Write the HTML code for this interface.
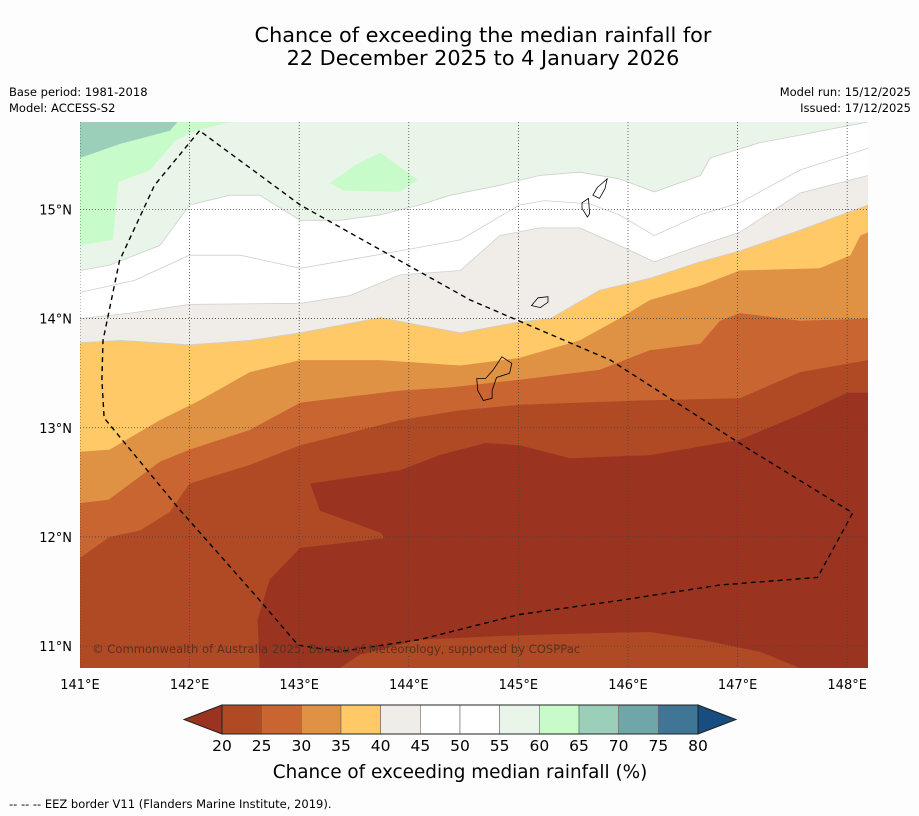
<!DOCTYPE html>
<html><head><meta charset="utf-8"><style>
body{margin:0;background:#fdfdfd;font-family:"DejaVu Sans","Liberation Sans",sans-serif;}
svg{display:block}
</style></head><body>
<svg id="chart" width="919" height="816" viewBox="0 0 919 816" xmlns="http://www.w3.org/2000/svg" font-family="DejaVu Sans, Liberation Sans, sans-serif">
<rect width="919" height="816" fill="#fdfdfd"/>
<text x="483" y="42" font-size="20.8" text-anchor="middle" fill="#000">Chance of exceeding the median rainfall for</text>
<text x="483" y="65" font-size="20.8" text-anchor="middle" fill="#000">22 December 2025 to 4 January 2026</text>
<text x="9" y="96" font-size="11.5">Base period: 1981-2018</text>
<text x="9" y="112" font-size="11.5">Model: ACCESS-S2</text>
<text x="911" y="96" font-size="11.5" text-anchor="end">Model run: 15/12/2025</text>
<text x="911" y="112" font-size="11.5" text-anchor="end">Issued: 17/12/2025</text>
<defs><clipPath id="mapclip"><rect x="80" y="122" width="788" height="546"/></clipPath></defs>
<g id="map" clip-path="url(#mapclip)"></g>
<g id="overlay" clip-path="url(#mapclip)"></g>
<text x="92" y="653" font-size="11.6" fill="#5a3020">© Commonwealth of Australia 2025, Bureau of Meteorology, supported by COSPPac</text>
<g id="axes"></g>
<g id="colorbar"></g>
<text x="460" y="778" font-size="18.4" text-anchor="middle">Chance of exceeding median rainfall (%)</text>
<text x="9" y="808" font-size="11.5">--  --  -- EEZ border V11 (Flanders Marine Institute, 2019).</text>
</svg>
<script>
const lonTicks=[141,142,143,144,145,146,147,148];
const latTicks=[11,12,13,14,15];
const cbLevels=[20,25,30,35,40,45,50,55,60,65,70,75,80];
const cbColors=["#b04a25","#c96531","#e09244","#fec966","#f0ede8","#ffffff","#ffffff","#e9f5e9","#c8fbca","#9bcfb9","#6fa6a8","#3f7696"];
const cbLow="#9a3420", cbHigh="#174d80";
const LON0=141, LON1=148.19, LAT0=10.8, LAT1=15.8;
const X0=80, X1=868, Y0=668, Y1=122;
const xs=lon=>X0+(lon-LON0)/(LON1-LON0)*(X1-X0);
const ys=lat=>Y0-(lat-LAT0)/(LAT1-LAT0)*(Y0-Y1);

const b1Lon=[141,141.27,141.55,141.82,142.0,142.55,143.01,143.92,144.47,145.01,146.11,147.02,147.57,148.19];
const b1Lat=[11.81,12.0,12.06,12.23,12.49,12.66,12.84,13.07,13.16,13.21,13.25,13.27,13.51,13.62];
const b2Lon=[141,141.26,141.73,142.0,142.55,143.01,143.92,144.38,145.01,145.74,146.2,146.66,146.84,147.02,147.57,148.19];
const b2Lat=[12.31,12.34,12.69,12.8,12.98,13.23,13.34,13.37,13.44,13.53,13.71,13.77,13.98,14.05,13.98,14.0];
const b3Lon=[141,141.27,141.73,142.09,142.55,143.01,143.74,144.47,145.01,145.56,145.92,146.2,146.66,147.02,147.75,148.03,148.12,148.19];
const b3Lat=[12.78,12.8,13.07,13.25,13.51,13.62,13.62,13.57,13.64,13.8,14.0,14.17,14.3,14.44,14.46,14.58,14.76,14.79];
const b4Lon=[141,141.37,142.0,142.55,143.01,143.74,144.1,144.47,145.01,145.29,145.74,146.2,146.66,147.02,147.57,148.19];
const b4Lat=[13.78,13.8,13.76,13.8,13.87,14.01,13.94,13.87,13.97,14.0,14.26,14.37,14.52,14.62,14.81,15.04];
const b5Lon=[141,141.46,142.0,143.01,143.46,143.92,144.47,144.83,145.19,145.56,145.92,146.24,146.66,147.02,147.57,148.19];
const b5Lat=[14.0,14.05,14.13,14.14,14.21,14.4,14.44,14.76,14.83,14.83,14.67,14.52,14.67,14.79,15.15,15.31];
const c50Lon=[141,141.5,142,142.46,143.01,143.92,144.47,145.01,145.24,145.65,145.92,146.24,146.66,147.02,147.57,148.19];
const c50Lat=[14.24,14.35,14.58,14.58,14.46,14.62,14.72,15.04,15.08,15.05,14.95,14.76,14.95,15.06,15.36,15.56];
const b6Lon=[141,141.27,141.73,142.0,142.37,142.64,143.01,143.37,143.74,144.1,144.38,144.83,145.19,145.56,145.92,146.24,146.66,146.75,147.2,147.57,148.03,148.19];
const b6Lat=[14.44,14.49,14.67,15.04,15.13,15.13,14.9,14.9,14.95,15.04,15.13,15.22,15.31,15.34,15.28,15.16,15.31,15.47,15.61,15.68,15.77,15.8];
const g60Lon=[141,141.3,141.35,141.64,141.87,142.05,142.37,141];
const g60Lat=[14.67,14.72,15.25,15.36,15.63,15.72,15.8,15.8];
const blobLon=[143.28,143.5,143.74,144.08,143.92,143.41];
const blobLat=[15.24,15.4,15.52,15.27,15.16,15.17];
const g65Lon=[141,141.37,141.82,141.89,141];
const g65Lat=[15.47,15.6,15.72,15.8,15.8];
const darkLon=[143.1,143.92,144.28,144.7,145.01,145.47,146.2,147.02,147.57,148.0,148.19,148.19,142.64,142.62,142.73,143.01,143.78,143.74,143.19];
const darkLat=[12.49,12.61,12.75,12.86,12.84,12.72,12.75,12.89,13.12,13.32,13.32,10.8,10.8,11.24,11.61,11.9,11.99,12.04,12.24];
const lobeLon=[143.37,143.55,144.1,145.01,145.74,146.2,146.66,147.2,147.57];
const lobeLat=[10.8,10.92,11.06,11.1,11.12,11.13,11.06,10.95,10.8];
const eezLon=[142.09,141.68,141.36,141.21,141.2,141.22,141.91,142.64,142.99,143.37,144.1,145.01,145.93,146.84,147.73,148.05,147.11,145.84,144.56,143.01,142.09];
const eezLat=[15.72,15.22,14.53,13.8,13.44,13.09,12.25,11.42,11.01,10.95,11.06,11.29,11.42,11.56,11.63,12.22,12.8,13.62,14.17,15.04,15.72];
const guamLon=[144.85,144.94,144.92,144.8,144.76,144.76,144.68,144.63,144.62,144.7,144.77];
const guamLat=[13.65,13.59,13.5,13.46,13.34,13.27,13.25,13.34,13.45,13.45,13.53];
const rotaLon=[145.12,145.18,145.27,145.27,145.2];
const rotaLat=[14.12,14.19,14.2,14.15,14.1];
const tinianLon=[145.58,145.64,145.65,145.63,145.58];
const tinianLat=[15.06,15.1,14.96,14.93,15.01];
const saipanLon=[145.72,145.81,145.79,145.74,145.68];
const saipanLat=[15.2,15.28,15.19,15.1,15.13];

const NS="http://www.w3.org/2000/svg";
const map=document.getElementById('map'), ov=document.getElementById('overlay'), ax=document.getElementById('axes'), cb=document.getElementById('colorbar');
function pts(lo,la){return lo.map((v,i)=>xs(v).toFixed(1)+','+ys(la[i]).toFixed(1)).join(' ');}
function poly(parent,lo,la,fill,stroke,sw,name){
  const p=document.createElementNS(NS,'polygon');
  p.setAttribute('points',pts(lo,la));p.setAttribute('fill',fill);
  if(stroke){p.setAttribute('stroke',stroke);p.setAttribute('stroke-width',sw);}
  
  
  parent.appendChild(p);return p;
}
function line(parent,lo,la,stroke,sw,dash,name){
  const p=document.createElementNS(NS,'polyline');
  p.setAttribute('points',pts(lo,la));p.setAttribute('fill','none');p.setAttribute('stroke',stroke);p.setAttribute('stroke-width',sw);
  if(dash)p.setAttribute('stroke-dasharray',dash);
  
  
  parent.appendChild(p);return p;
}
const base=document.createElementNS(NS,'rect');
base.setAttribute('x',X0);base.setAttribute('y',Y1);base.setAttribute('width',X1-X0);base.setAttribute('height',Y0-Y1);base.setAttribute('fill',cbColors[0]);


map.appendChild(base);
const bands=[[b1Lon,b1Lat,cbColors[1],'band-25-30'],[b2Lon,b2Lat,cbColors[2],'band-30-35'],[b3Lon,b3Lat,cbColors[3],'band-35-40'],[b4Lon,b4Lat,cbColors[4],'band-40-45'],[b5Lon,b5Lat,cbColors[5],'band-45-55'],[b6Lon,b6Lat,cbColors[7],'band-55-60']];
bands.forEach(b=>{poly(map,b[0].concat([LON1,LON0]),b[1].concat([LAT1,LAT1]),b[2],null,0,b[3]);});
[b4Lon,b5Lon,c50Lon,b6Lon].forEach((lo,i)=>{const la=[b4Lat,b5Lat,c50Lat,b6Lat][i];line(map,lo,la,'#cfcfcf',0.8,null,'contour-line');});
poly(map,g60Lon,g60Lat,cbColors[8],null,0,'band-60-65');
poly(map,blobLon,blobLat,cbColors[8],null,0,'band-60-65-patch');
poly(map,g65Lon,g65Lat,cbColors[9],null,0,'band-65-70');
poly(map,darkLon,darkLat,cbLow,null,0,'band-below-20');
poly(map,lobeLon,lobeLat,cbColors[0],null,0,'band-20-25-lobe');
lonTicks.forEach(l=>{const e=document.createElementNS(NS,'line');e.setAttribute('x1',xs(l));e.setAttribute('x2',xs(l));e.setAttribute('y1',Y1);e.setAttribute('y2',Y0);e.setAttribute('stroke','#444');e.setAttribute('stroke-width','0.8');e.setAttribute('stroke-dasharray','1,2');


ov.appendChild(e);
const t=document.createElementNS(NS,'text');t.setAttribute('x',xs(l));t.setAttribute('y',689);t.setAttribute('font-size','13');t.setAttribute('text-anchor','middle');t.textContent=l+'°E';


ax.appendChild(t);});
latTicks.forEach(l=>{const e=document.createElementNS(NS,'line');e.setAttribute('y1',ys(l));e.setAttribute('y2',ys(l));e.setAttribute('x1',X0);e.setAttribute('x2',X1);e.setAttribute('stroke','#444');e.setAttribute('stroke-width','0.8');e.setAttribute('stroke-dasharray','1,2');


ov.appendChild(e);
const t=document.createElementNS(NS,'text');t.setAttribute('x',72);t.setAttribute('y',ys(l)+5);t.setAttribute('font-size','13');t.setAttribute('text-anchor','end');t.textContent=l+'°N';


ax.appendChild(t);});
[[guamLon,guamLat,'guam-island'],[rotaLon,rotaLat,'rota-island'],[tinianLon,tinianLat,'tinian-island'],[saipanLon,saipanLat,'saipan-island']].forEach(s=>poly(ov,s[0],s[1],'none','#000',0.8,s[2]));
line(ov,eezLon,eezLat,'#000',1.4,'5,4','eez-border');
const CX0=222,CX1=698,CY=705,CH=29,bw=(CX1-CX0)/cbColors.length;
cbColors.forEach((c,i)=>{const r=document.createElementNS(NS,'rect');r.setAttribute('x',CX0+i*bw);r.setAttribute('y',CY);r.setAttribute('width',bw);r.setAttribute('height',CH);r.setAttribute('fill',c);r.setAttribute('stroke','#666');r.setAttribute('stroke-width','0.6');


cb.appendChild(r);});
const tl=document.createElementNS(NS,'polygon');tl.setAttribute('points',`${CX0},${CY} ${CX0},${CY+CH} 184,${CY+CH/2}`);tl.setAttribute('fill',cbLow);tl.setAttribute('stroke','#222');


cb.appendChild(tl);
const tr=document.createElementNS(NS,'polygon');tr.setAttribute('points',`${CX1},${CY} ${CX1},${CY+CH} 736,${CY+CH/2}`);tr.setAttribute('fill',cbHigh);tr.setAttribute('stroke','#222');


cb.appendChild(tr);
const fr=document.createElementNS(NS,'rect');fr.setAttribute('x',CX0);fr.setAttribute('y',CY);fr.setAttribute('width',CX1-CX0);fr.setAttribute('height',CH);fr.setAttribute('fill','none');fr.setAttribute('stroke','#222');


cb.appendChild(fr);
cbLevels.forEach((v,i)=>{const t=document.createElementNS(NS,'text');t.setAttribute('x',CX0+i*bw);t.setAttribute('y',751);t.setAttribute('font-size','15.5');t.setAttribute('text-anchor','middle');t.textContent=v;


cb.appendChild(t);});
</script>
</body></html>
